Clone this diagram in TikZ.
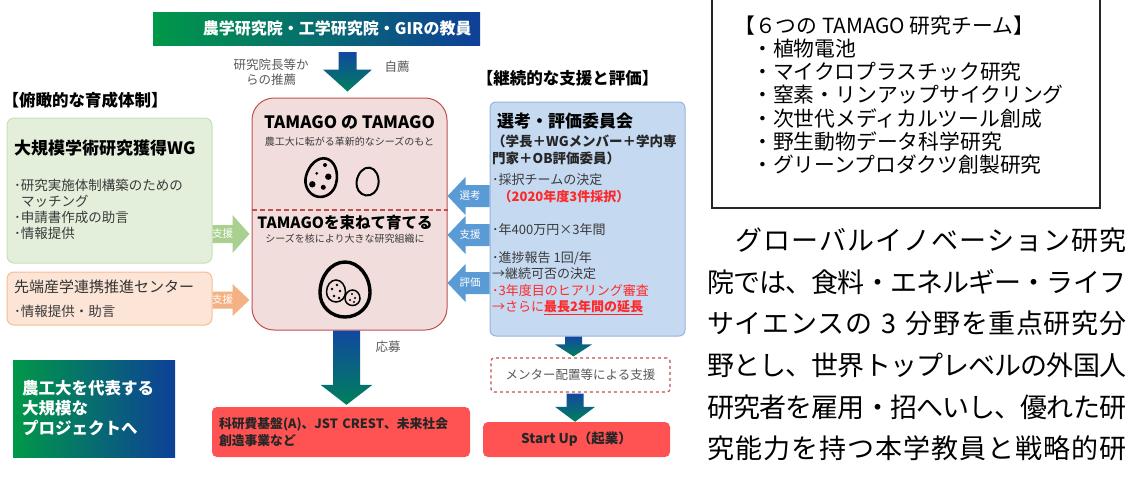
\documentclass[tikz,border=0pt]{standalone}
\usepackage{fontspec}
\setmainfont{Noto Sans CJK JP}
\usetikzlibrary{calc}
\definecolor{agrgreen}{RGB}{0,152,72}
\definecolor{agrblue}{RGB}{14,64,152}
\definecolor{arrowtop}{RGB}{18,72,160}
\definecolor{arrowbot}{RGB}{0,128,92}
\definecolor{tamagofill}{RGB}{242,221,221}
\definecolor{tamagoline}{RGB}{192,80,80}
\definecolor{wgfill}{RGB}{227,239,218}
\definecolor{wgline}{RGB}{200,224,182}
\definecolor{wgarrow}{RGB}{169,208,142}
\definecolor{tlifill}{RGB}{252,229,214}
\definecolor{tliline}{RGB}{244,190,150}
\definecolor{tliarrow}{RGB}{244,177,131}
\definecolor{cmtfill}{RGB}{197,217,241}
\definecolor{cmtline}{RGB}{150,180,222}
\definecolor{cmtarrow}{RGB}{91,155,213}
\definecolor{alertred}{RGB}{255,40,40}
\definecolor{boxred}{RGB}{255,82,82}
\definecolor{notegray}{RGB}{89,89,89}
\definecolor{bodygray}{RGB}{58,58,58}

\newcommand\fsz[2]{\fontsize{#1}{#2}\selectfont}
% spread the characters of one line evenly over the column width
\newcommand\spreadline[1]{\makebox[419pt][s]{\sprfirst#1\relax}}
\def\sprfirst#1{#1\sprnext}
\def\sprnext#1{\ifx\relax#1\else\hskip0pt plus1fil minus1fil\relax#1\expandafter\sprnext\fi}
\def\gap{\kern.3em}

\tikzset{
  panel/.style={line width=1pt,inner sep=0pt},
  gradbox/.style={left color=agrgreen,right color=agrblue,inner sep=0pt},
  redbox/.style={fill=boxred,rounded corners=5pt,inner sep=0pt,text=black!85},
  downgrad/.style={top color=arrowtop,bottom color=arrowbot},
  note/.style={text=notegray,font=\fsz{12.5}{15}},
  arrowlab/.style={text=white,font=\fsz{10.5}{12}},
  % block arrow: shaft half width, head half width, head length
  barrow/.style n args={3}{to path={
    let \p1=($(\tikztotarget)!#3!(\tikztostart)$) in
    ($(\tikztostart)!#1!90:(\tikztotarget)$) --
    ($(\p1)!#1!90:(\tikztotarget)$) --
    ($(\p1)!#2!90:(\tikztotarget)$) --
    (\tikztotarget) --
    ($(\p1)!#2!-90:(\tikztotarget)$) --
    ($(\p1)!#1!-90:(\tikztotarget)$) --
    ($(\tikztostart)!#1!-90:(\tikztotarget)$) -- cycle}},
  % egg outline: half width, upper and lower half height
  pics/egg/.style n args={3}{code={
    \draw (-#1,0) arc[start angle=180,end angle=0,x radius=#1,y radius=#3]
                  arc[start angle=0,end angle=-180,x radius=#1,y radius=#2];
  }}
}

\begin{document}
\begin{tikzpicture}[x=1pt,y=-1pt]
\useasboundingbox (0,0) rectangle (1126,490);

% faculty and recommendation
\node[gradbox,minimum width=327pt,minimum height=33pt,text width=310pt,align=right,
  text=white,font=\fsz{16}{18}\bfseries] (faculty) at (316.5,28.5) {農学研究院・工学研究院・GIRの教員};
\node[panel,draw=tamagoline,fill=tamagofill,rounded corners=22pt,
  minimum width=195pt,minimum height=232pt] (tamago) at (349.5,214) {};
\coordinate (rec top) at ($(faculty.south -| tamago.north)+(-2,7)$);
\coordinate (rec tip) at ($(tamago.north)+(-2,-6)$);
\shade[downgrad] (rec top) to[barrow={9pt}{24.5pt}{22pt}] (rec tip);
\node[note,align=center] (by dean) at (271,72.5) {研究院長等か\\らの推薦};
\node[note] (by self) at (397,67) {自薦};

% overview side
\node[font=\fsz{16.5}{18}\bfseries] (overview) at (85,100) {【俯瞰的な育成体制】};
\node[panel,draw=wgline,fill=wgfill,rounded corners=7pt,
  minimum width=205pt,minimum height=145pt] (wg) at (109.5,190.5) {};
\node[anchor=west,inner sep=0pt,font=\fsz{17}{18}\bfseries] (wg title) at (14,148) {大規模学術研究獲得WG};
\node[anchor=west,inner sep=0pt,align=left,text=bodygray,font=\fsz{13.5}{16}] (wg body) at (14,209.5)
  {･研究実施体制構築のための\\\hspace*{6.8pt}マッチング\\･申請書作成の助言\\･情報提供};
\node[panel,draw=tliline,fill=tlifill,rounded corners=7pt,
  minimum width=205pt,minimum height=53pt] (tli) at (109.5,298.5) {};
\node[anchor=west,inner sep=0pt,text=black!80,font=\fsz{15}{16}] (tli title) at (14,287) {先端産学連携推進センター};
\node[anchor=west,inner sep=0pt,text=bodygray,font=\fsz{13.5}{15}] (tli body) at (14,311) {･情報提供・助言};

\coordinate (wg out) at ($(wg.east)+(0,43.5)$);
\coordinate (wg in) at ($(tamago.west)+(-2,20)$);
\fill[wgarrow] (wg out) to[barrow={9pt}{19pt}{17pt}] (wg in);
\node[arrowlab] (wg lab) at (222.5,234) {支援};
\coordinate (tli out) at ($(tli.east)+(0,1.5)$);
\coordinate (tli in) at ($(tamago.west)+(-2,86)$);
\fill[tliarrow] (tli out) to[barrow={8.5pt}{16pt}{17pt}] (tli in);
\node[arrowlab] (tli lab) at (222.5,300) {支援};

% seeds inside the TAMAGO box
\node[font=\fsz{17}{18}\bfseries] (seeds title) at (349.5,123) {TAMAGO の TAMAGO};
\node[text=bodygray,font=\fsz{10}{12}] (seeds sub) at (349.5,142) {農工大に転がる革新的なシーズのもと};
\pic[line width=2.6pt,rotate=-14] (seed) at (321,180) {egg={15.5}{22}{17}};
\fill (325,165) circle[radius=2];
\fill (316.7,173.3) circle[radius=1.5];
\fill (328.3,176.7) circle[radius=3.2];
\fill (312.3,184.3) circle[radius=3.2];
\fill (323.3,187.3) circle[radius=2.5];
\pic[line width=2pt,rotate=-8] (bare) at (367.5,183) {egg={11}{15.5}{12.5}};
\coordinate (split) at (349.5,210);
\draw[tamagoline,line width=1.3pt,dash pattern=on 5pt off 3pt] (tamago.west |- split) -- (tamago.east |- split);
\node[font=\fsz{15.5}{17}\bfseries] (grow title) at (345,223) {TAMAGOを束ねて育てる};
\node[text=bodygray,font=\fsz{10}{12}] (grow sub) at (345,239) {シーズを核により大きな研究組織に};
\pic[line width=3.4pt] (big) at (345,293) {egg={25}{31}{24}};
\pic[line width=1.5pt] (inner a) at (336,292) {egg={9.5}{12}{10}};
\pic[line width=1.5pt] (inner b) at (352.5,298.5) {egg={7.5}{8.5}{7}};
\fill (337,285) circle[radius=1.3];
\fill (332,289) circle[radius=1.3];
\fill (340,291) circle[radius=1.3];
\fill (334,296) circle[radius=1.3];
\fill (339,298) circle[radius=1.3];
\fill (352,294) circle[radius=1.1];
\fill (355,298) circle[radius=1.1];
\fill (350,300) circle[radius=1.1];
\fill (354,302) circle[radius=1.1];

% committee side
\node[font=\fsz{16.5}{18}\bfseries] (followup) at (567.5,78) {【継続的な支援と評価】};
\node[panel,draw=cmtline,fill=cmtfill,rounded corners=6pt,
  minimum width=195pt,minimum height=234pt] (committee) at (587.5,219) {};
\node[anchor=west,inner sep=0pt,font=\fsz{17}{18}\bfseries] (cmt title) at (497,121) {選考・評価委員会};
\node[anchor=west,inner sep=0pt,align=left,text=black!85,font=\fsz{13.5}{17}\bfseries] (cmt members) at (492,149.5)
  {（学長＋WGメンバー＋学内専\\門家＋OB評価委員）};
\node[anchor=west,inner sep=0pt,align=left,text=bodygray,font=\fsz{13}{17}] (cmt select) at (492,188.5)
  {･採択チームの決定\\\hspace*{6.5pt}\textcolor{alertred}{\bfseries （2020年度3件採択）}};
\node[anchor=west,inner sep=0pt,text=bodygray,font=\fsz{13}{17}] (cmt fund) at (492,230) {･年400万円×3年間};
\node[anchor=west,inner sep=0pt,align=left,text=bodygray,font=\fsz{13}{15.5}] (cmt report) at (492,265.5)
  {･進捗報告 1回/年\\→継続可否の決定};
\node[anchor=west,inner sep=0pt,align=left,text=alertred,font=\fsz{13}{15.5}] (cmt extend) at (492,299.5)
  {･3年度目のヒアリング審査\\→さらに\underline{\bfseries 最長2年間の延長}};

\coordinate (sel out) at ($(committee.west)+(0,-23)$);
\coordinate (sel in) at ($(tamago.east)+(0,-18)$);
\fill[cmtarrow] (sel out) to[barrow={11pt}{19pt}{18pt}] (sel in);
\node[arrowlab] (sel lab) at (470,196) {選考};
\coordinate (aid out) at ($(committee.west)+(0,16)$);
\coordinate (aid in) at ($(tamago.east)+(0,21)$);
\fill[cmtarrow] (aid out) to[barrow={11pt}{19pt}{18pt}] (aid in);
\node[arrowlab] (aid lab) at (470,235) {支援};
\coordinate (rev out) at ($(committee.west)+(0,64)$);
\coordinate (rev in) at ($(tamago.east)+(0,69)$);
\fill[cmtarrow] (rev out) to[barrow={11pt}{19pt}{18pt}] (rev in);
\node[arrowlab] (rev lab) at (470,283) {評価};

% outcomes
\node[redbox,minimum width=258pt,minimum height=50pt,text width=244pt,align=left,
  font=\fsz{12.8}{17}\bfseries] (grant) at (341,432) {科研費基盤(A)、JST CREST、未来社会\\創造事業など};
\coordinate (apply top) at ($(tamago.south)+(-3,0)$);
\coordinate (apply tip) at ($(grant.north)+(5.5,-2)$);
\shade[downgrad] (apply top) to[barrow={13.5pt}{26pt}{20pt}] (apply tip);
\node[note] (apply lab) at (388,347) {応募};
\node[gradbox,minimum width=162pt,minimum height=97pt,text width=144pt,align=left,
  text=white,font=\fsz{16.5}{20}\bfseries] (flagship) at (94,408.5) {農工大を代表する\\大規模な\\プロジェクトへ};

\node[draw=tamagoline,dashed,line width=1.2pt,fill=white,rounded corners=3pt,inner sep=0pt,
  minimum width=179pt,minimum height=34pt,text=notegray,font=\fsz{12.5}{15}] (mentor) at (580.5,375) {メンター配置等による支援};
\node[redbox,minimum width=187pt,minimum height=35pt,font=\fsz{13.5}{16}\bfseries] (startup) at (576.5,439.5) {Start Up（起業）};
\coordinate (mentor top) at ($(committee.south)+(-14,0)$);
\coordinate (mentor in) at ($(mentor.north)+(-7,-1)$);
\shade[downgrad] (mentor top) to[barrow={8.5pt}{18.5pt}{12pt}] (mentor in);
\coordinate (startup top) at ($(mentor.south)+(-5.5,1)$);
\coordinate (startup in) at ($(startup.north)+(-1.5,0)$);
\shade[downgrad] (startup top) to[barrow={8.5pt}{20pt}{15pt}] (startup in);

% team list and running text
\node[draw=black!85,line width=1.2pt,minimum width=388pt,minimum height=213pt] (teams frame) at (906,101.5) {};
\node[anchor=west,inner sep=0pt,align=left,font=\fsz{20.8}{23.3}] (teams) at (734,95)
  {【６つの TAMAGO 研究チーム】\\
   \hspace*{18pt}・植物電池\\
   \hspace*{18pt}・マイクロプラスチック研究\\
   \hspace*{18pt}・窒素・リンアップサイクリング\\
   \hspace*{18pt}・次世代メディカルツール創成\\
   \hspace*{18pt}・野生動物データ科学研究\\
   \hspace*{18pt}・グリーンプロダクツ創製研究};
\node[anchor=west,inner sep=0pt,font=\fsz{27}{30}] (line a) at (707,240) {\spreadline{　グローバルイノベーション研究}};
\node[anchor=west,inner sep=0pt,font=\fsz{27}{30}] (line b) at (707,282) {\spreadline{院では、食料・エネルギー・ライフ}};
\node[anchor=west,inner sep=0pt,font=\fsz{27}{30}] (line c) at (707,323.5) {\spreadline{サイエンスの\gap 3\gap 分野を重点研究分}};
\node[anchor=west,inner sep=0pt,font=\fsz{27}{30}] (line d) at (707,365) {\spreadline{野とし、世界トップレベルの外国人}};
\node[anchor=west,inner sep=0pt,font=\fsz{27}{30}] (line e) at (707,407) {\spreadline{研究者を雇用・招へいし、優れた研}};
\node[anchor=west,inner sep=0pt,font=\fsz{27}{30}] (line f) at (707,448.5) {\spreadline{究能力を持つ本学教員と戦略的研}};
\end{tikzpicture}
\end{document}
